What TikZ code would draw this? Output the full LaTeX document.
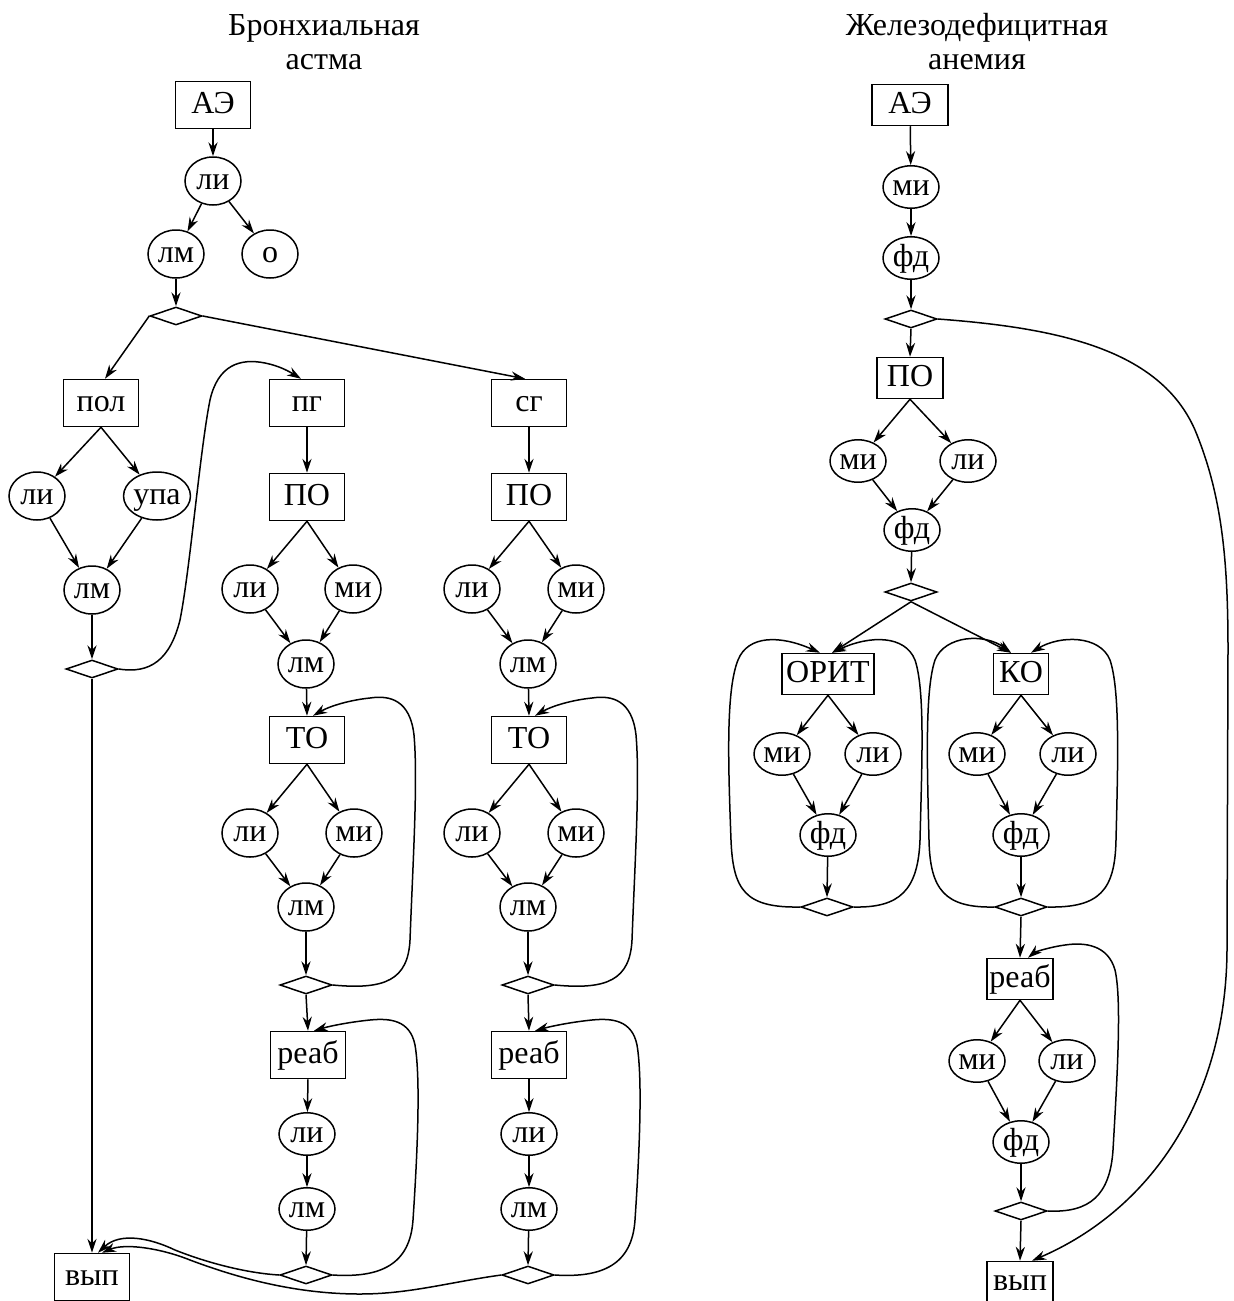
\documentclass[tikz,border=0pt]{standalone}
\usepackage{fontspec}
\setmainfont{Liberation Serif}
\usetikzlibrary{shapes.geometric,arrows.meta}
\begin{document}
\begin{tikzpicture}[x=0.5pt,y=-0.5pt,
  every node/.style={font=\fontsize{16}{17}\selectfont},
  base/.style={draw, inner sep=0pt, text height=11.5pt, text depth=3.5pt},
  boxL/.style={base, rectangle, minimum width=37.5pt, minimum height=23.5pt},
  boxR/.style={base, rectangle, minimum height=20.5pt},
  ellL/.style={base, ellipse, minimum width=28pt, minimum height=24pt},
  ellS/.style={base, ellipse, minimum width=28pt, minimum height=20.5pt},
  dia/.style={draw, diamond, inner sep=0pt, minimum width=26pt, minimum height=9pt},
  arr/.style={-{Stealth[length=7pt,width=4.6pt]}},
  line width=0.75pt]
\path[fill=white] (0,0) rectangle (1234,1301);
\useasboundingbox (0,0) rectangle (1234,1301);

% ---------- left chart ----------
\node[align=center] (t1) at (324,42) {Бронхиальная\\астма};
\node[boxL] (ae1) at (213,105) {АЭ};
\node[ellL] (li1) at (213,181) {ли};
\node[ellL] (lm1) at (176,254) {лм};
\node[ellL] (o1) at (270,254) {о};
\node[dia] (d1) at (176,316) {};
\node[boxL] (pol) at (101,403) {пол};
\node[ellL] (li2) at (37,496) {ли};
\node[ellL] (upa) at (157,496) {упа};
\node[ellL] (lm2) at (92,590) {лм};
\node[dia] (d2) at (92,669) {};
\node[boxL] (vyp1) at (92,1277) {вып};

\node[boxL] (pg) at (307,403) {пг};
\node[boxL] (po1) at (307,497) {ПО};
\node[ellL] (li3) at (250,589) {ли};
\node[ellL] (mi3) at (353,589) {ми};
\node[ellL] (lm3) at (306,664) {лм};
\node[boxL] (to1) at (307,740) {ТО};
\node[ellL] (li4) at (250,833) {ли};
\node[ellL] (mi4) at (354,833) {ми};
\node[ellL] (lm4) at (306,907) {лм};
\node[dia] (d3) at (306,985) {};
\node[boxL] (reab1) at (308,1055) {реаб};
\node[ellS] (li5) at (307,1134) {ли};
\node[ellS] (lm5) at (307,1209) {лм};
\node[dia] (d4) at (306,1275) {};

\node[boxL] (sg) at (529,403) {сг};
\node[boxL] (po2) at (529,497) {ПО};
\node[ellL] (li6) at (472,589) {ли};
\node[ellL] (mi6) at (576,589) {ми};
\node[ellL] (lm6) at (528,664) {лм};
\node[boxL] (to2) at (529,740) {ТО};
\node[ellL] (li7) at (472,833) {ли};
\node[ellL] (mi7) at (576,833) {ми};
\node[ellL] (lm7) at (528,907) {лм};
\node[dia] (d5) at (528,985) {};
\node[boxL] (reab2) at (529,1055) {реаб};
\node[ellS] (li8) at (529,1134) {ли};
\node[ellS] (lm8) at (529,1209) {лм};
\node[dia] (d6) at (528,1275) {};

\draw[arr] (ae1) -- (li1);
\draw[arr] (li1) -- (lm1);
\draw[arr] (li1) -- (o1);
\draw[arr] (lm1) -- (d1.north);
\draw[arr] (d1.west) -- ([xshift=2pt]pol.north);
\draw[arr] (d1.east) -- ([xshift=-2pt]sg.north);
\draw[arr] (pol.south) -- (li2);
\draw[arr] (pol.south) -- (upa);
\draw[arr] (li2) -- (lm2);
\draw[arr] (upa) -- (lm2);
\draw[arr] (lm2) -- (d2.north);
\draw[arr] (d2.south) -- (vyp1.north);

\draw[arr] (pg.south) -- (po1.north);
\draw[arr] (po1.south) -- (li3);
\draw[arr] (po1.south) -- (mi3);
\draw[arr] (li3) -- (lm3);
\draw[arr] (mi3) -- (lm3);
\draw[arr] (lm3) -- (to1.north);
\draw[arr] (to1.south) -- (li4);
\draw[arr] (to1.south) -- (mi4);
\draw[arr] (li4) -- (lm4);
\draw[arr] (mi4) -- (lm4);
\draw[arr] (lm4) -- (d3.north);
\draw[arr] (d3.south) -- (reab1.north);
\draw[arr] (reab1.south) -- (li5);
\draw[arr] (li5) -- (lm5);
\draw[arr] (lm5) -- (d4.north);

\draw[arr] (sg.south) -- (po2.north);
\draw[arr] (po2.south) -- (li6);
\draw[arr] (po2.south) -- (mi6);
\draw[arr] (li6) -- (lm6);
\draw[arr] (mi6) -- (lm6);
\draw[arr] (lm6) -- (to2.north);
\draw[arr] (to2.south) -- (li7);
\draw[arr] (to2.south) -- (mi7);
\draw[arr] (li7) -- (lm7);
\draw[arr] (mi7) -- (lm7);
\draw[arr] (lm7) -- (d5.north);
\draw[arr] (d5.south) -- (reab2.north);
\draw[arr] (reab2.south) -- (li8);
\draw[arr] (li8) -- (lm8);
\draw[arr] (lm8) -- (d6.north);

% curves left
\draw[arr] (d2.east) .. controls (150,674) and (170,660) .. (180,620)
  .. controls (190,570) and (200,450) .. (210,400)
  .. controls (218,365) and (240,358) .. (265,363)
  .. controls (280,366) and (290,372) .. ([xshift=-3pt]pg.north);
\draw[arr] (d3.east) .. controls (385,990) and (408,980) .. (410,940)
  .. controls (413,860) and (418,780) .. (414,735)
  .. controls (410,700) and (390,695) .. (370,698)
  .. controls (350,700) and (330,706) .. ([xshift=3pt]to1.north);
\draw[arr] (d5.east) .. controls (607,990) and (630,980) .. (632,940)
  .. controls (635,860) and (640,780) .. (636,735)
  .. controls (632,700) and (612,695) .. (592,698)
  .. controls (572,700) and (552,706) .. ([xshift=3pt]to2.north);
\draw[arr] (d4.east) .. controls (380,1278) and (410,1265) .. (413,1220)
  .. controls (417,1160) and (421,1080) .. (415,1045)
  .. controls (410,1020) and (390,1018) .. (370,1020)
  .. controls (350,1022) and (330,1026) .. ([xshift=3pt]reab1.north);
\draw[arr] (d6.east) .. controls (602,1278) and (632,1265) .. (635,1220)
  .. controls (639,1160) and (643,1080) .. (637,1045)
  .. controls (632,1020) and (612,1018) .. (592,1020)
  .. controls (572,1022) and (552,1026) .. ([xshift=3pt]reab2.north);
\draw[arr] (d4.west) .. controls (245,1273) and (205,1262) .. (175,1250)
  .. controls (150,1238) and (120,1232) .. ([xshift=3pt]vyp1.north);
\draw[arr] (d6.west) .. controls (450,1282) and (410,1294) .. (360,1294)
  .. controls (290,1294) and (230,1275) .. (190,1260)
  .. controls (160,1248) and (125,1243) .. ([xshift=5pt]vyp1.north);

% ---------- right chart ----------
\node[align=center] (t2) at (977,42) {Железодефицитная\\анемия};
\node[boxR, minimum width=38pt] (ae2) at (910,105) {АЭ};
\node[ellS] (mi9) at (911,187) {ми};
\node[ellS] (fd9) at (911,258) {фд};
\node[dia] (d7) at (911,319) {};
\node[boxR, minimum width=33pt] (po3) at (910,378) {ПО};
\node[ellS] (mi10) at (858,461) {ми};
\node[ellS] (li10) at (968,461) {ли};
\node[ellS] (fd10) at (912,530) {фд};
\node[dia] (d8) at (911,592) {};
\node[boxR, minimum width=46pt] (orit) at (828,674) {ОРИТ};
\node[boxR, minimum width=27.5pt] (ko) at (1021,674) {КО};
\node[ellS] (mi11) at (782,754) {ми};
\node[ellS] (li11) at (873,754) {ли};
\node[ellS] (fd11) at (828,835) {фд};
\node[dia] (d9) at (827,907) {};
\node[ellS] (mi12) at (977,754) {ми};
\node[ellS] (li12) at (1068,754) {ли};
\node[ellS] (fd12) at (1021,835) {фд};
\node[dia] (d10) at (1021,907) {};
\node[boxR, minimum width=33pt] (reab3) at (1020,979) {реаб};
\node[ellS] (mi13) at (977,1061) {ми};
\node[ellS] (li13) at (1067,1061) {ли};
\node[ellS] (fd13) at (1021,1142) {фд};
\node[dia] (d11) at (1021,1211) {};
\node[boxR, minimum width=33pt] (vyp2) at (1020,1282) {вып};

\draw[arr] (ae2) -- (mi9);
\draw[arr] (mi9) -- (fd9);
\draw[arr] (fd9) -- (d7.north);
\draw[arr] (d7.south) -- (po3.north);
\draw[arr] (po3.south) -- (mi10);
\draw[arr] (po3.south) -- (li10);
\draw[arr] (mi10) -- (fd10);
\draw[arr] (li10) -- (fd10);
\draw[arr] (fd10) -- (d8.north);
\draw[arr] (d8.south) -- ([xshift=2pt]orit.north);
\draw[arr] (d8.south) -- ([xshift=-5pt]ko.north);
\draw[arr] (orit.south) -- (mi11);
\draw[arr] (orit.south) -- (li11);
\draw[arr] (mi11) -- (fd11);
\draw[arr] (li11) -- (fd11);
\draw[arr] (fd11) -- (d9.north);
\draw[arr] (ko.south) -- (mi12);
\draw[arr] (ko.south) -- (li12);
\draw[arr] (mi12) -- (fd12);
\draw[arr] (li12) -- (fd12);
\draw[arr] (fd12) -- (d10.north);
\draw[arr] (d10.south) -- (reab3.north);
\draw[arr] (reab3.south) -- (mi13);
\draw[arr] (reab3.south) -- (li13);
\draw[arr] (mi13) -- (fd13);
\draw[arr] (li13) -- (fd13);
\draw[arr] (fd13) -- (d11.north);
\draw[arr] (d11.south) -- (vyp2.north);

% curves right
\draw[arr] (d7.east) .. controls (1060,328) and (1160,350) .. (1195,430)
  .. controls (1222,495) and (1228,560) .. (1228,650)
  -- (1227,950)
  .. controls (1226,1100) and (1150,1210) .. ([xshift=6pt]vyp2.north);
\draw[arr] (d11.east) .. controls (1090,1213) and (1110,1195) .. (1113,1150)
  .. controls (1117,1080) and (1122,1000) .. (1115,970)
  .. controls (1108,945) and (1085,942) .. (1065,945)
  .. controls (1050,947) and (1035,952) .. ([xshift=4pt]reab3.north);
\draw[arr] (d9.west) .. controls (745,908) and (733,890) .. (731,840)
  .. controls (728,760) and (726,690) .. (738,660)
  .. controls (748,635) and (780,635) .. ([xshift=-4pt]orit.north);
\draw[arr] (d9.east) .. controls (900,908) and (918,890) .. (920,840)
  .. controls (922,760) and (925,690) .. (915,660)
  .. controls (905,635) and (870,635) .. ([xshift=2pt]orit.north);
\draw[arr] (d10.west) .. controls (945,908) and (930,890) .. (929,840)
  .. controls (927,760) and (925,690) .. (935,660)
  .. controls (945,635) and (985,633) .. ([xshift=-5pt]ko.north);
\draw[arr] (d10.east) .. controls (1100,908) and (1115,890) .. (1116,840)
  .. controls (1118,760) and (1120,690) .. (1110,660)
  .. controls (1100,635) and (1060,635) .. ([xshift=5pt]ko.north);
\end{tikzpicture}
\end{document}
